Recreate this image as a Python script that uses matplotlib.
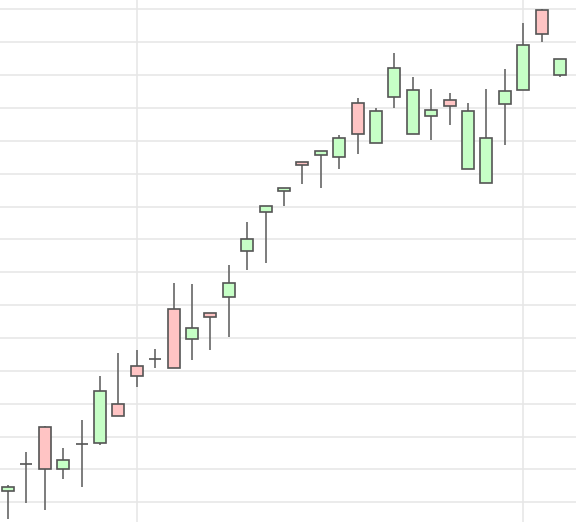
import matplotlib
matplotlib.use('Agg')
import matplotlib.pyplot as plt
import numpy as np

# OHLC values (price units, gridlines every 5)
opens  = [101.70, 105.81, 111.45, 105.05, 108.86, 109.01, 114.95, 120.73, 121.80, 129.41,
          124.84, 128.80, 131.23, 138.23, 144.17, 147.37, 151.78, 152.85, 152.54, 160.76,
          154.67, 161.68, 156.04, 158.78, 161.22, 150.72, 148.59, 160.61, 162.74, 174.92,
          165.02]
highs  = [102.62, 107.64, 111.55, 108.25, 112.51, 119.21, 122.71, 123.17, 123.32, 133.36,
          133.21, 128.80, 136.10, 142.65, 145.08, 147.82, 151.78, 153.46, 155.89, 161.52,
          160.00, 168.37, 164.72, 162.89, 162.28, 160.76, 162.89, 165.94, 172.94, 175.07,
          167.46]
lows   = [97.44, 99.88, 98.81, 103.53, 102.31, 108.71, 113.12, 117.53, 120.43, 120.43,
          121.64, 123.17, 125.14, 135.34, 136.41, 145.08, 148.43, 147.82, 150.72, 153.00,
          154.67, 160.00, 156.04, 155.13, 157.41, 150.72, 148.59, 154.37, 162.74, 170.05,
          164.72]
closes = [102.31, 105.81, 105.05, 106.42, 108.86, 116.93, 113.12, 119.21, 121.80, 120.43,
          126.51, 128.19, 133.36, 140.06, 145.08, 147.82, 151.33, 153.46, 155.44, 156.04,
          159.55, 166.09, 162.74, 159.70, 160.31, 159.55, 155.44, 162.59, 169.59, 171.27,
          167.46]

up_color = '#c6ffc6'
down_color = '#ffc4c4'
edge = '#555555'

x = np.arange(len(opens))
o = np.array(opens)
c = np.array(closes)
colors = [up_color if cc >= oo else down_color for oo, cc in zip(o, c)]

fig = plt.figure(figsize=(5.76, 5.22), dpi=100)
ax = fig.add_axes([0, 0, 1, 1])

ax.set_axisbelow(True)
ax.set_yticks(np.arange(100, 180, 5))
ax.set_xticks([7, 28])
ax.grid(True, color='#e6e6e6', linewidth=1.1)

ax.vlines(x, lows, highs, color='#666666', linewidth=1.2, zorder=2)
ax.bar(x, c - o, bottom=o, width=0.66, color=colors, edgecolor=edge,
       linewidth=1.2, zorder=3)

ax.set_xlim(-0.435, 30.87)
ax.set_ylim(96.99, 176.44)
for s in ax.spines.values():
    s.set_visible(False)
ax.tick_params(left=False, bottom=False, labelleft=False, labelbottom=False)

fig.savefig('out.png', dpi=100)
